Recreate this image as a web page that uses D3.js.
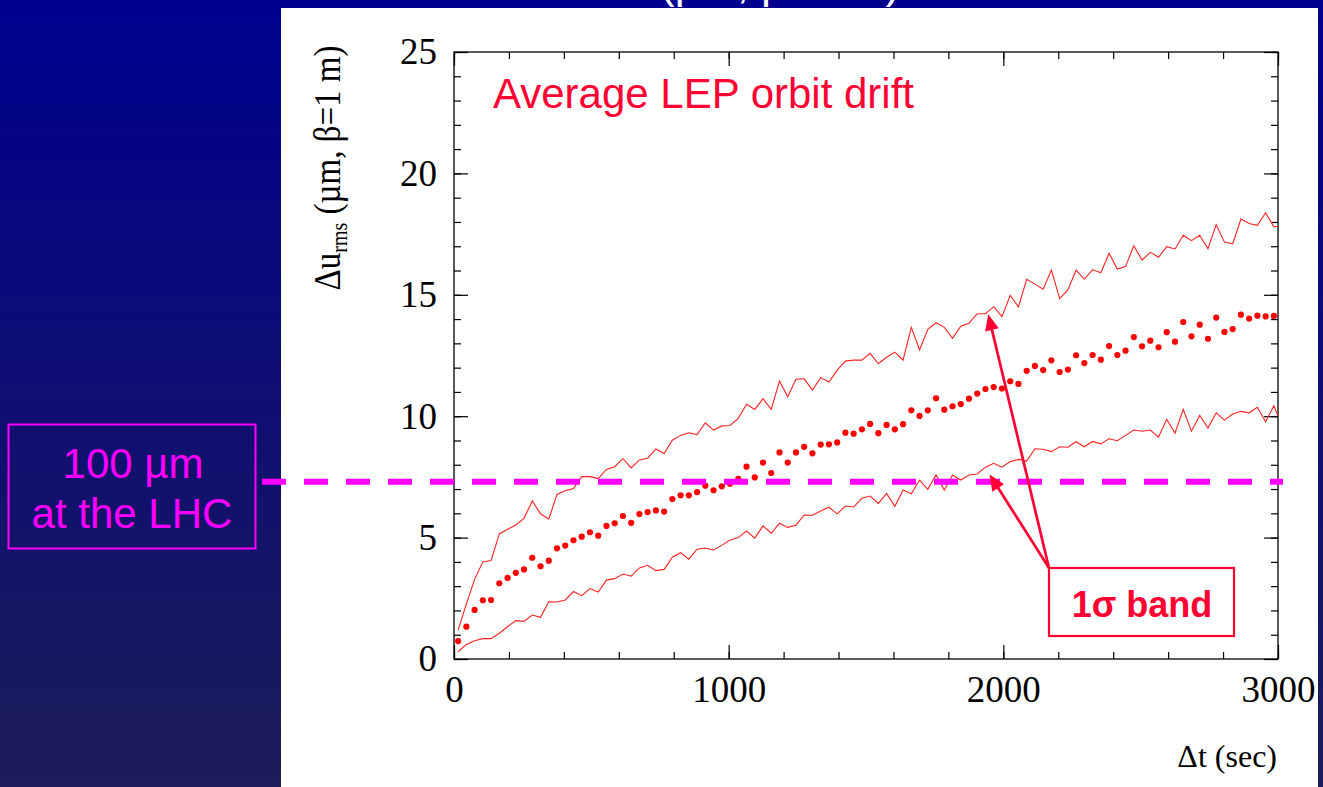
<!DOCTYPE html>
<html><head><meta charset="utf-8">
<script src="https://cdn.jsdelivr.net/npm/d3@7"></script>
<style>html,body{margin:0;padding:0;background:#000090;overflow:hidden}</style>
</head><body><svg id="c" width="1323" height="787"></svg>
<script>
// ---- data ----
const times = [15,45,75,105,135,165,195,225,255,285,315,345,375,405,435,465,495,525,555,585,615,645,675,705,735,765,795,825,855,885,915,945,975,1005,1035,1065,1095,1125,1155,1185,1215,1245,1275,1305,1335,1365,1395,1425,1455,1485,1515,1545,1575,1605,1635,1665,1695,1725,1755,1785,1815,1845,1875,1905,1935,1965,1995,2025,2055,2085,2115,2145,2175,2205,2235,2265,2295,2325,2355,2385,2415,2445,2475,2505,2535,2565,2595,2625,2655,2685,2715,2745,2775,2805,2835,2865,2895,2925,2955,2985,3015];
const meanDrift = [0.74,1.33,2.02,2.42,2.43,3.12,3.34,3.55,3.69,4.17,3.82,4.05,4.56,4.67,4.89,5.04,5.22,5.08,5.48,5.59,5.89,5.61,5.97,6.05,6.12,6.07,6.59,6.74,6.74,6.87,7.14,6.95,7.11,7.22,7.42,7.92,7.48,8.09,7.66,8.51,8.09,8.51,8.74,8.47,8.83,8.84,8.92,9.32,9.28,9.46,9.68,9.30,9.64,9.46,9.67,10.24,10.01,10.24,10.74,10.27,10.41,10.50,10.72,10.93,11.12,11.20,11.14,11.44,11.33,11.87,12.07,11.90,12.30,11.82,11.92,12.51,12.19,12.52,12.33,12.89,12.52,12.70,13.26,12.88,13.11,12.84,13.46,13.07,13.88,13.29,13.77,13.19,14.06,13.47,13.59,14.18,14.02,14.14,14.11,14.13,13.9];
const upperBand = [1.19,2.27,3.28,4.00,4.06,5.15,5.34,5.52,5.79,6.51,5.98,5.76,6.78,6.93,7.02,7.51,7.51,7.43,7.81,7.92,8.25,7.87,8.20,8.27,8.65,8.46,9.01,9.21,9.32,9.24,9.73,9.43,9.60,9.62,9.91,10.49,10.28,10.72,10.28,11.45,10.80,11.52,11.54,11.08,11.59,11.41,11.90,12.27,12.31,12.31,12.59,12.16,12.43,12.64,12.31,13.66,12.73,13.58,13.85,13.66,13.21,13.71,13.83,14.22,14.22,14.51,14.10,14.98,14.50,15.64,15.44,15.23,16.02,14.84,15.20,16.02,15.64,16.04,15.91,16.71,16.06,16.16,17.02,16.43,16.75,16.55,16.98,16.89,17.45,17.23,17.45,16.90,17.89,17.17,17.10,18.12,17.94,17.86,18.38,17.80,17.85];
const lowerBand = [0.30,0.60,0.75,0.84,0.84,1.06,1.33,1.58,1.55,1.81,1.72,2.36,2.35,2.43,2.78,2.61,2.90,2.76,3.25,3.31,3.50,3.41,3.75,3.86,3.64,3.69,4.19,4.38,4.11,4.52,4.57,4.49,4.68,4.90,5.00,5.27,4.98,5.48,5.18,5.59,5.42,5.51,5.93,5.92,6.10,6.25,5.98,6.30,6.26,6.62,6.71,6.41,6.82,6.29,6.96,6.80,7.37,6.99,7.58,6.96,7.58,7.37,7.58,7.62,7.90,8.06,7.90,8.13,8.22,8.15,8.66,8.64,8.54,8.74,8.72,8.95,8.74,8.96,8.86,9.07,8.99,9.21,9.43,9.38,9.43,9.14,9.87,9.30,10.28,9.38,10.04,9.51,10.14,9.84,10.09,10.20,10.14,10.37,9.77,10.43,9.6];
const lhcLevel = 7.3;
const xMajorTicks = [0,1000,2000,3000];
const xMinorTicks = [0,200,400,600,800,1000,1200,1400,1600,1800,2000,2200,2400,2600,2800,3000];
const yMajorTicks = [0,5,10,15,20,25];
const yMinorTicks = [0,1,2,3,4,5,6,7,8,9,10,11,12,13,14,15,16,17,18,19,20,21,22,23,24,25];

// ---- layout ----
const L = 454, R = 1278, T = 52, B = 659;
const svg = d3.select('#c');
const x = d3.scaleLinear().domain([0,3000]).range([L,R]);
const y = d3.scaleLinear().domain([0,25]).range([B,T]);
const serif = "'Liberation Serif','Times New Roman',serif";
const sans = "'Liberation Sans',Arial,Helvetica,sans-serif";
const crimson = '#ff0033';
const magenta = '#ff00ff';

const defs = svg.append('defs');
const grad = defs.append('linearGradient').attr('id','bg').attr('x1',0).attr('y1',0).attr('x2',0).attr('y2',1);
grad.append('stop').attr('offset','0%').attr('stop-color','#00008e');
grad.append('stop').attr('offset','100%').attr('stop-color','#1c1c58');
defs.append('clipPath').attr('id','clip').append('rect').attr('x',L).attr('y',T).attr('width',R-L).attr('height',B-T);

svg.append('rect').attr('width',1323).attr('height',787).attr('fill','url(#bg)');
// title cut off at the top edge, as in the reference
svg.append('text').attr('x',660).attr('y',-2).attr('font-family',sans).attr('font-size',44)
  .attr('fill','#fff').text('(\u00b5m, \u03b2=1 m)');
// white panel
svg.append('rect').attr('x',281).attr('y',8).attr('width',1037).attr('height',779).attr('fill','#fff');

// axes
function styleAxis(g){ g.select('.domain').remove(); g.selectAll('line').attr('stroke','#000').attr('stroke-width',1.2);
  g.attr('font-family',serif).attr('font-size',37); g.selectAll('text').attr('fill','#000'); }
svg.append('g').attr('transform',`translate(0,${B})`).call(d3.axisBottom(x).tickValues(xMinorTicks).tickSize(-7).tickFormat('')).call(styleAxis);
svg.append('g').attr('transform',`translate(0,${B})`).call(d3.axisBottom(x).tickValues(xMajorTicks).tickSize(-14).tickPadding(17).tickFormat(d3.format('d'))).call(styleAxis);
svg.append('g').attr('transform',`translate(0,${T})`).call(d3.axisTop(x).tickValues(xMinorTicks).tickSize(-7).tickFormat('')).call(styleAxis);
svg.append('g').attr('transform',`translate(0,${T})`).call(d3.axisTop(x).tickValues(xMajorTicks).tickSize(-14).tickFormat('')).call(styleAxis);
svg.append('g').attr('transform',`translate(${L},0)`).call(d3.axisLeft(y).tickValues(yMinorTicks).tickSize(-7).tickFormat('')).call(styleAxis);
svg.append('g').attr('transform',`translate(${L},0)`).call(d3.axisLeft(y).tickValues(yMajorTicks).tickSize(-14).tickPadding(17).tickFormat(d3.format('d'))).call(styleAxis);
svg.append('g').attr('transform',`translate(${R},0)`).call(d3.axisRight(y).tickValues(yMinorTicks).tickSize(-7).tickFormat('')).call(styleAxis);
svg.append('g').attr('transform',`translate(${R},0)`).call(d3.axisRight(y).tickValues(yMajorTicks).tickSize(-14).tickFormat('')).call(styleAxis);
svg.append('rect').attr('x',L).attr('y',T).attr('width',R-L).attr('height',B-T).attr('fill','none').attr('stroke','#000').attr('stroke-width',1.3);

// axis titles
svg.append('text').attr('x',1277).attr('y',767).attr('text-anchor','end').attr('font-family',serif).attr('font-size',32).text('\u0394t (sec)');
const yt = svg.append('text').attr('transform','translate(340,168) rotate(-90) scale(1,1.12)').attr('text-anchor','middle')
  .attr('font-family',serif).attr('font-size',33);
yt.append('tspan').text('\u0394u');
yt.append('tspan').attr('font-size',20).attr('dy',6).text('rms');
yt.append('tspan').attr('dy',-6).text(' (\u00b5m, \u03b2=1 m)');

// data
const plot = svg.append('g').attr('clip-path','url(#clip)');
const line = d3.line().x((d,i)=>x(times[i])).y(d=>y(d));
plot.append('path').datum(upperBand).attr('d',line).attr('fill','none').attr('stroke','#ff2020').attr('stroke-width',1.1);
plot.append('path').datum(lowerBand).attr('d',line).attr('fill','none').attr('stroke','#ff2020').attr('stroke-width',1.1);
plot.selectAll('circle.pt').data(meanDrift).enter().append('circle').attr('class','pt')
  .attr('cx',(d,i)=>x(times[i])).attr('cy',d=>y(d)).attr('r',3.1).attr('fill','#ff0000');

// label in plot
svg.append('text').attr('x',493).attr('y',108).attr('font-family',sans).attr('font-size',42).attr('fill',crimson).text('Average LEP orbit drift');

// LHC dashed line
svg.append('line').attr('x1',262).attr('x2',1283).attr('y1',y(lhcLevel)).attr('y2',y(lhcLevel))
  .attr('stroke',magenta).attr('stroke-width',6).attr('stroke-dasharray','24,18');
svg.append('rect').attr('x',8.5).attr('y',424.5).attr('width',247).attr('height',124).attr('fill','none').attr('stroke',magenta).attr('stroke-width',2);
svg.append('text').attr('x',133).attr('y',478).attr('text-anchor','middle').attr('font-family',sans).attr('font-size',42).attr('fill',magenta).text('100 \u00b5m');
svg.append('text').attr('x',132).attr('y',528).attr('text-anchor','middle').attr('font-family',sans).attr('font-size',42).attr('fill',magenta).text('at the LHC');

// 1 sigma band box + arrows
svg.append('rect').attr('x',1049).attr('y',568).attr('width',185).attr('height',68).attr('fill','#fff').attr('stroke',crimson).attr('stroke-width',2.2);
svg.append('text').attr('x',1142).attr('y',617).attr('text-anchor','middle').attr('font-family',sans).attr('font-weight','bold').attr('font-size',36).attr('fill',crimson).text('1\u03c3 band');
function arrow(x0,y0,x1,y1){
  const dx=x1-x0, dy=y1-y0, len=Math.hypot(dx,dy), ux=dx/len, uy=dy/len, hl=16, hw=7;
  const bx=x1-ux*hl, by=y1-uy*hl;
  svg.append('line').attr('x1',x0).attr('y1',y0).attr('x2',bx+ux*2).attr('y2',by+uy*2).attr('stroke',crimson).attr('stroke-width',2.7);
  svg.append('path').attr('d',`M${x1},${y1}L${bx-uy*hw},${by+ux*hw}L${bx+uy*hw},${by-ux*hw}Z`).attr('fill',crimson);
}
arrow(1049,568,x(1945),y(14.2));
arrow(1049,568,x(1950),y(7.6));
</script></body></html>
